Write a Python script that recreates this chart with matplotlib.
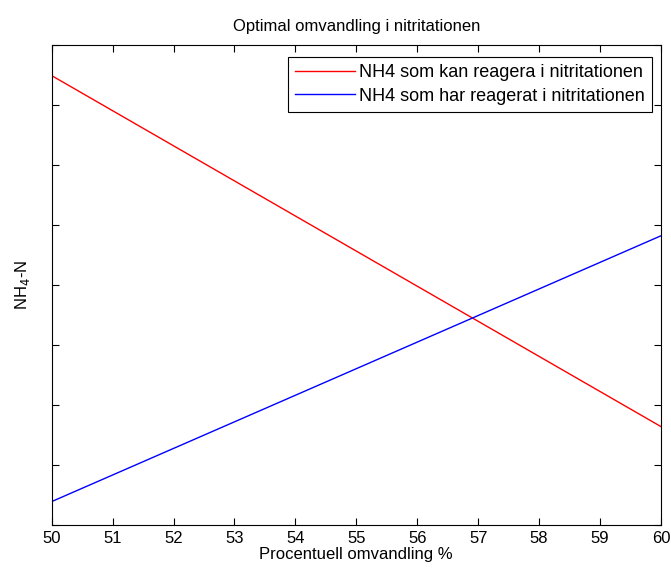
import numpy as np
import matplotlib
matplotlib.use('Agg')
import matplotlib.pyplot as plt

plt.rcParams['font.family'] = ['Liberation Sans', 'DejaVu Sans']

# omvandling i procent
x = [50, 60]
# NH4-N (avlasta varden, y-skalans siffror syns inte i originalet)
kan_reagera = [74.9, 16.4]
har_reagerat = [3.9, 48.2]
y_ticks = [0, 10, 20, 30, 40, 50, 60, 70, 80]

fig = plt.figure(figsize=(6.71, 5.74), dpi=100)
ax = fig.add_axes([0.077, 0.0854, 0.908, 0.8362])

ax.plot(x, kan_reagera, color='r', lw=1.0, label='NH4 som kan reagera i nitritationen')
ax.plot(x, har_reagerat, color='b', lw=1.0, label='NH4 som har reagerat i nitritationen')

ax.set_xlim(50, 60)
ax.set_ylim(0, 80)
ax.set_xticks(np.arange(50, 61, 1))
ax.set_yticks(y_ticks)
ax.set_yticklabels([])
ax.tick_params(direction='in', length=5, width=0.8, top=True, right=True, labelsize=12, pad=4)
for s in ax.spines.values():
    s.set_linewidth(0.8)

ax.set_title('Optimal omvandling i nitritationen', fontsize=12, pad=10)
ax.set_xlabel('Procentuell omvandling %', fontsize=12, labelpad=1)
ax.set_ylabel('NH$_4$-N', fontsize=12, labelpad=10)

leg = ax.legend(loc='upper right', bbox_to_anchor=(0.9717, 0.9007),
                bbox_transform=fig.transFigure, borderaxespad=0,
                fontsize=13, fancybox=False, framealpha=1,
                edgecolor='black', handlelength=3.3, handletextpad=0.25,
                borderpad=0.4, labelspacing=0.35)
leg.get_frame().set_linewidth(0.8)

fig.savefig('out.png', dpi=100)
